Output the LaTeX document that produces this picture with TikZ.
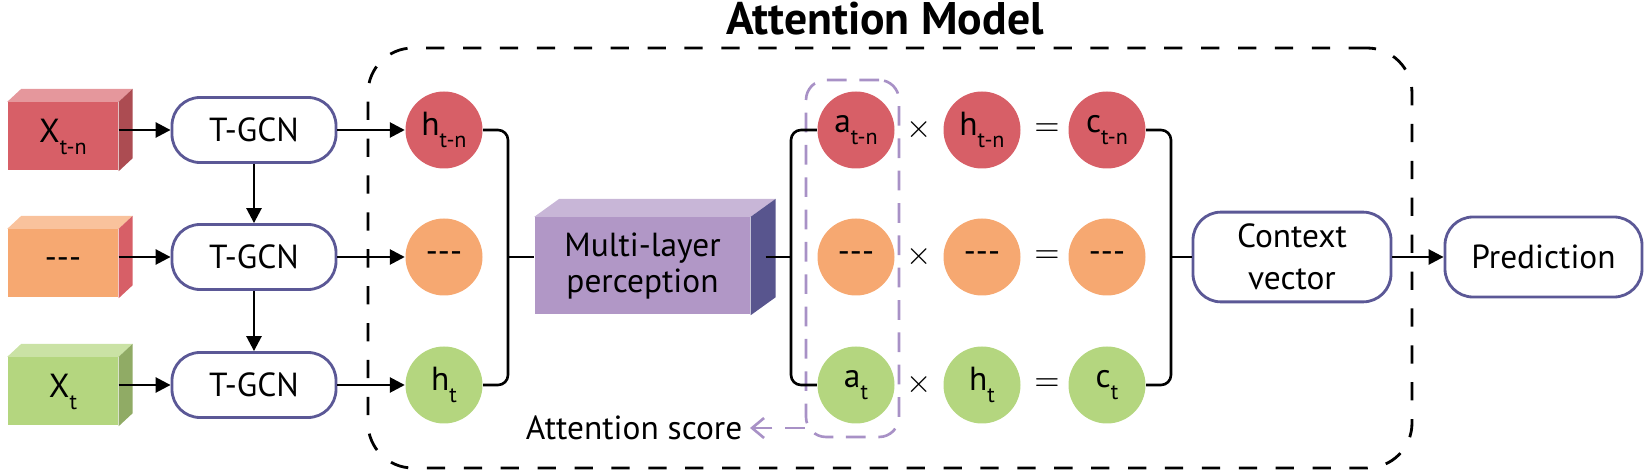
\documentclass[tikz,border=0pt]{standalone}
\usepackage{fontspec}
\setmainfont{PT Sans}
\usetikzlibrary{arrows.meta,calc}

\definecolor{redc}{HTML}{D75F67}
\definecolor{orangec}{HTML}{F6A871}
\definecolor{greenc}{HTML}{B4D67F}
\definecolor{mlpc}{HTML}{B197C6}
\definecolor{mlpside}{HTML}{58558E}
\definecolor{bordc}{HTML}{5B5896}
\definecolor{scorec}{HTML}{A891C6}

% indice bas, nettement descendu comme sur la figure
\newcommand\lsub[1]{\raisebox{-3.4pt}{\fontsize{6.3}{6.3}\selectfont #1}}
\newcommand\threedash{\mbox{-}\mbox{-}\mbox{-}}

\tikzset{
    % face avant des paves d'entree
    input_box/.style={
        fill=#1,
        minimum width=1.10cm,
        minimum height=0.68cm,
        inner sep=0pt
    },
    % les boites arrondies (T-GCN, contexte, prediction)
    round_box/.style={
        draw=bordc,
        fill=white,
        line width=0.8pt,
        rounded corners=0.28cm,
        align=center
    },
    % les etats caches, scores, contextes
    state/.style={
        circle,
        fill=#1,
        minimum size=0.77cm,
        inner sep=0pt
    },
    arrow/.style={
        -{Triangle[length=0.15cm,width=0.15cm]},
        line width=0.75pt
    },
    wire/.style={
        line width=0.75pt,
        rounded corners=0.1cm
    },
    outer_frame/.style={
        draw,
        line width=0.8pt,
        dash pattern=on 5.2pt off 5.3pt,
        rounded corners=0.45cm
    },
    score_frame/.style={
        draw=scorec,
        line width=0.75pt,
        dash pattern=on 5.6pt off 3.6pt,
        rounded corners=0.2cm
    },
    score_arrow/.style={
        draw=scorec,
        line width=0.75pt,
        dash pattern=on 5.6pt off 3.6pt,
        -{Straight Barb[length=0.12cm,width=0.2cm]}
    }
}

\begin{document}
\begin{tikzpicture}[font=\fontsize{9.5}{10}\selectfont]

    \useasboundingbox (0,0) rectangle (16.5,4.76);

    % les faces du dessus et de droite d'un pave
    \def\boxfaces#1#2#3#4#5{
        \fill[#2] (#1.north west) -- ++(#4,#5) -- ($(#1.north east)+(#4,#5)$) -- (#1.north east) -- cycle;
        \fill[#3] (#1.north east) -- ++(#4,#5) -- ($(#1.south east)+(#4,#5)$) -- (#1.south east) -- cycle;
    }

    % --- 1. Le cadre du modele d'attention ---
    \node[outer_frame, minimum width=10.44cm, minimum height=4.20cm] (frame) at (8.90,2.18) {};
    \node[font=\fontsize{13}{14}\selectfont\bfseries, anchor=base] (title) at (8.85,4.41) {Attention Model};

    % --- 2. Entrees et T-GCN ---
    \node[input_box=redc]    (X1) at (0.63,3.395) {X\lsub{t-n}};
    \node[input_box=orangec] (X2) at (0.63,2.125) {\threedash};
    \node[input_box=greenc]  (X3) at (0.63,0.845) {X\lsub{t}};
    \boxfaces{X1}{redc!65!white}{redc!80!black}{0.14}{0.13}
    \boxfaces{X2}{orangec!70!white}{redc}{0.14}{0.13}
    \boxfaces{X3}{greenc!70!white}{greenc!80!black}{0.14}{0.13}

    \node[round_box, minimum width=1.64cm, minimum height=0.65cm] (T1) at (2.54,3.46) {T-GCN};
    \node[round_box, minimum width=1.64cm, minimum height=0.65cm] (T2) at (2.54,2.19) {T-GCN};
    \node[round_box, minimum width=1.64cm, minimum height=0.65cm] (T3) at (2.54,0.91) {T-GCN};

    \draw[arrow] (X1.east |- T1) -- (T1);
    \draw[arrow] (X2.east |- T2) -- (T2);
    \draw[arrow] (X3.east |- T3) -- (T3);
    \draw[arrow] (T1) -- (T2);
    \draw[arrow] (T2) -- (T3);

    % --- 3. Etats caches et perceptron ---
    \node[state=redc]    (h1) at (4.44,3.46) {h\lsub{t-n}};
    \node[state=orangec] (h2) at (4.44,2.19) {\threedash};
    \node[state=greenc]  (h3) at (4.44,0.91) {h\lsub{t}};
    \draw[arrow] (T1) -- (h1);
    \draw[arrow] (T2) -- (h2);
    \draw[arrow] (T3) -- (h3);

    \node[fill=mlpc, minimum width=2.15cm, minimum height=0.97cm, align=center] (mlp) at (6.425,2.10) {Multi-layer\\perception};
    \boxfaces{mlp}{mlpc!70!white}{mlpside}{0.25}{0.18}

    \coordinate (jl) at (5.08,2.19);
    \coordinate (jm) at (7.91,2.19);
    \coordinate (jr) at (11.71,2.19);

    \draw[wire] (h1.east) -| (jl) |- (h3.east);
    \draw[wire] (jl) -- (jl -| mlp.west);
    \draw[wire] ([xshift=0.15cm]mlp.east |- jm) -- (jm);

    % --- 4. Scores d'attention et vecteurs de contexte ---
    \node[score_frame, minimum width=0.93cm, minimum height=3.57cm] (ascore) at (8.525,2.175) {};

    \node[state=redc]    (a1) at (8.56,3.46) {a\lsub{t-n}};
    \node[state=orangec] (a2) at (8.56,2.19) {\threedash};
    \node[state=greenc]  (a3) at (8.56,0.91) {a\lsub{t}};
    \node (m1) at (9.19,3.46) {$\times$};
    \node (m2) at (9.19,2.19) {$\times$};
    \node (m3) at (9.19,0.91) {$\times$};
    \node[state=redc]    (hh1) at (9.82,3.46) {h\lsub{t-n}};
    \node[state=orangec] (hh2) at (9.82,2.19) {\threedash};
    \node[state=greenc]  (hh3) at (9.82,0.91) {h\lsub{t}};
    \node (e1) at (10.47,3.46) {$=$};
    \node (e2) at (10.47,2.19) {$=$};
    \node (e3) at (10.47,0.91) {$=$};
    \node[state=redc]    (c1) at (11.07,3.46) {c\lsub{t-n}};
    \node[state=orangec] (c2) at (11.07,2.19) {\threedash};
    \node[state=greenc]  (c3) at (11.07,0.91) {c\lsub{t}};

    \draw[wire] (a1.west) -| (jm) |- (a3.west);
    \draw[wire] (c1.east) -| (jr) |- (c3.east);

    \node[anchor=east, inner sep=2pt] (score) at (7.50,0.48) {Attention score};
    \draw[score_arrow] (ascore.west |- score) -- (score);

    % --- 5. Contexte et prediction ---
    \node[round_box, minimum width=1.98cm, minimum height=0.81cm, font=\fontsize{9.5}{12}\selectfont] (ctx) at (12.92,2.19) {Context\\vector};
    \node[round_box, minimum width=1.97cm, minimum height=0.80cm] (pred) at (15.435,2.19) {Prediction};
    \draw[wire] (jr) -- (ctx);
    \draw[arrow] (ctx) -- (pred);

\end{tikzpicture}
\end{document}
